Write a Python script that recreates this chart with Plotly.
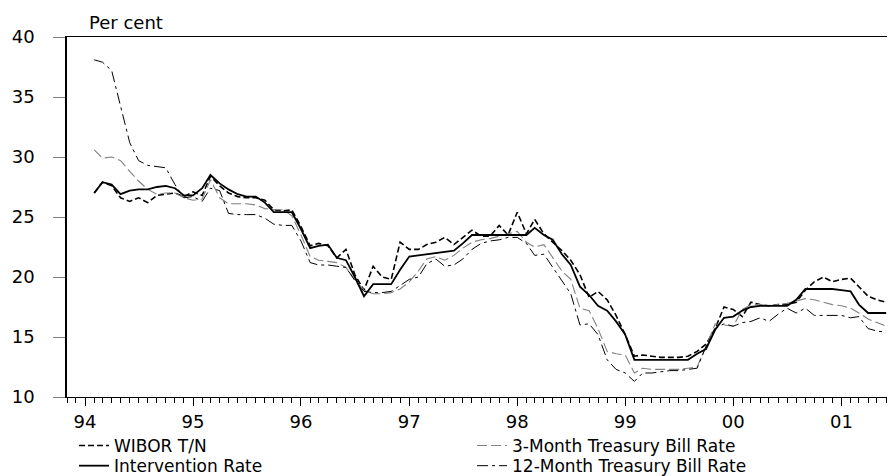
import pandas as pd
import plotly.graph_objects as go

# monthly observations, Feb 1994 .. Jun 2001
months = pd.date_range("1994-02-01", periods=89, freq="MS")

wibor_tn = [
    27.0, 27.9, 27.6, 26.6, 26.3, 26.6, 26.2, 26.8, 26.9, 27.0, 26.7,
    27.1, 26.8, 28.4, 27.6, 27.0, 26.7, 26.6, 26.6, 26.4, 25.6, 25.5, 25.6,
    24.2, 22.6, 22.8, 22.6, 21.6, 22.3, 20.2, 18.9, 20.9, 20.0, 19.8, 22.9,
    22.3, 22.3, 22.7, 22.9, 23.3, 22.7, 23.3, 23.9, 23.4, 23.4, 24.3, 23.5,
    25.4, 23.6, 24.8, 23.6, 22.9, 22.2, 21.4, 20.2, 18.3, 18.8, 18.1, 16.8,
    15.2, 13.4, 13.5, 13.4, 13.3, 13.3, 13.3, 13.4, 13.8, 14.4, 15.7, 17.5,
    17.3, 16.7, 17.9, 17.7, 17.6, 17.7, 17.7, 17.9, 18.9, 19.6, 20.0, 19.6,
    19.8, 19.9, 19.2, 18.4, 18.1, 17.9,
]

intervention = [
    27.0, 27.9, 27.7, 26.9, 27.2, 27.3, 27.3, 27.5, 27.6, 27.4, 26.8,
    26.8, 27.4, 28.5, 27.8, 27.3, 26.9, 26.7, 26.7, 26.2, 25.4, 25.4, 25.4,
    24.0, 22.4, 22.6, 22.7, 21.6, 21.4, 20.0, 18.4, 19.4, 19.4, 19.4, 20.6,
    21.7, 21.8, 21.9, 22.0, 22.1, 22.2, 22.8, 23.5, 23.5, 23.5, 23.5, 23.5,
    23.5, 23.5, 24.1, 23.5, 23.1, 21.9, 21.0, 19.2, 18.5, 17.6, 17.2, 16.3,
    15.2, 13.1, 13.1, 13.1, 13.1, 13.1, 13.1, 13.1, 13.6, 14.0, 15.6, 16.6,
    16.7, 17.2, 17.5, 17.6, 17.6, 17.6, 17.6, 18.1, 19.0, 19.0, 19.0, 19.0,
    18.9, 18.8, 17.7, 17.0, 17.0, 17.0,
]

tb_3m = [
    30.6, 29.9, 30.0, 29.7, 28.8, 28.0, 27.3, 26.9, 27.0, 27.0, 26.6,
    26.4, 26.5, 28.1, 26.6, 26.1, 26.1, 26.1, 26.0, 25.7, 25.6, 25.6, 25.1,
    23.5, 21.7, 21.4, 21.3, 21.2, 20.8, 19.8, 18.9, 18.6, 18.6, 18.7, 19.0,
    19.6, 20.5, 21.5, 21.7, 21.4, 21.8, 22.4, 22.9, 23.1, 23.2, 23.4, 23.6,
    23.8, 22.9, 22.5, 22.7, 21.6, 20.5, 19.8, 17.4, 17.2, 15.7, 13.8, 13.6,
    13.5, 12.0, 12.4, 12.3, 12.3, 12.3, 12.3, 12.4, 12.5, 14.2, 16.1, 16.0,
    15.9, 17.3, 17.7, 17.7, 17.6, 17.7, 17.8, 18.0, 18.2, 18.1, 17.9, 17.7,
    17.6, 17.4, 17.0, 16.5, 16.2, 15.9,
]

tb_12m = [
    38.1, 37.9, 37.2, 34.3, 31.2, 29.7, 29.3, 29.2, 29.1, 27.7, 26.6,
    26.7, 26.3, 27.4, 27.2, 25.3, 25.2, 25.2, 25.2, 24.9, 24.4, 24.3, 24.3,
    23.0, 21.2, 21.0, 21.0, 20.9, 20.8, 19.7, 18.8, 18.7, 18.7, 18.8, 19.3,
    19.8, 20.0, 21.1, 21.5, 20.9, 21.0, 21.5, 22.3, 22.8, 23.0, 23.1, 23.3,
    23.3, 22.8, 21.8, 21.9, 20.8, 19.7, 18.6, 16.0, 16.1, 15.2, 13.1, 12.3,
    12.0, 11.3, 12.0, 12.0, 12.1, 12.2, 12.2, 12.3, 12.4, 14.2, 15.7, 16.1,
    15.9, 16.2, 16.3, 16.6, 16.3, 16.9, 17.4, 17.0, 17.4, 16.8, 16.8, 16.8,
    16.8, 16.6, 16.7, 15.7, 15.5, 15.4,
]

font = "DejaVu Sans"

fig = go.Figure()
fig.add_trace(go.Scatter(x=months, y=wibor_tn, mode="lines", name="WIBOR T/N",
                         line=dict(color="black", width=1.6, dash="6px,3px")))
fig.add_trace(go.Scatter(x=months, y=tb_3m, mode="lines", name="3-Month Treasury Bill Rate",
                         line=dict(color="#808080", width=1.1, dash="10px,4px")))
fig.add_trace(go.Scatter(x=months, y=intervention, mode="lines", name="Intervention Rate",
                         legend="legend2",
                         line=dict(color="black", width=1.8)))
fig.add_trace(go.Scatter(x=months, y=tb_12m, mode="lines", name="12-Month Treasury Bill Rate",
                         legend="legend2",
                         line=dict(color="black", width=1, dash="11px,4px,3px,4px")))

# one legend per row so the two rows sit close together
row = dict(orientation="h", x=0.0085, xanchor="left", yanchor="middle",
           entrywidth=353, entrywidthmode="pixels", tracegroupgap=0,
           font=dict(size=17), bgcolor="rgba(0,0,0,0)")

# the page body adds 8px around the figure, so the figure is 8px smaller
fig.update_layout(
    width=887, height=468,
    margin=dict(l=59, r=0, t=29, b=79, autoexpand=False),
    paper_bgcolor="white", plot_bgcolor="white",
    font=dict(family=font, size=18, color="black"),
    showlegend=True,
    legend=dict(row, y=-0.136),
    legend2=dict(row, y=-0.192),
    annotations=[dict(text="Per cent", x=0.024, y=1.0, xref="paper", yref="paper",
                      xanchor="left", yanchor="bottom", showarrow=False,
                      yshift=2, font=dict(size=18))],
)

fig.update_xaxes(
    type="date", range=["1993-11-01", "2001-07-01"],
    tick0="1994-01-01", dtick="M12", tickformat="%y",
    ticks="outside", ticklen=8, tickcolor="black", tickwidth=1,
    minor=dict(dtick="M1", ticks="outside", ticklen=5, tickcolor="black"),
    showline=True, linecolor="black", linewidth=1, mirror=True,
    showgrid=False, zeroline=False, tickfont=dict(size=18),
)
fig.update_yaxes(
    range=[10, 40], dtick=5, ticks="outside", ticklen=12, tickcolor="gray",
    ticklabelstandoff=15,
    showline=True, linecolor="black", linewidth=1.5,
    showgrid=False, zeroline=False, tickfont=dict(size=18),
)

fig.write_html("out.html")
